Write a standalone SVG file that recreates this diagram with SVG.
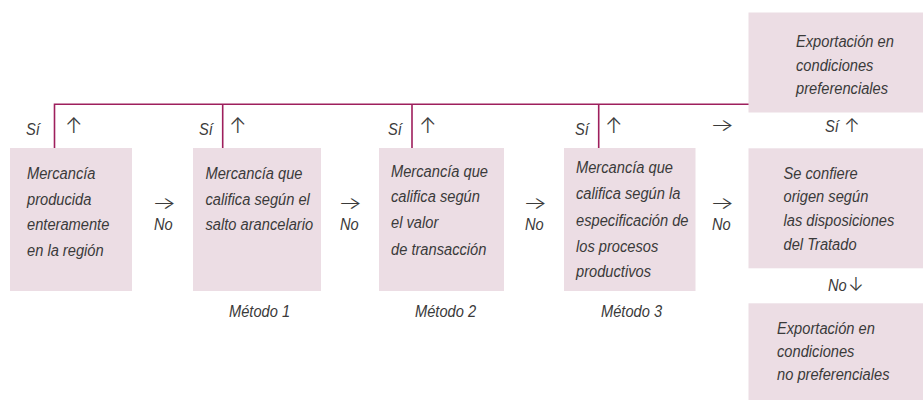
<svg xmlns="http://www.w3.org/2000/svg" width="923" height="400" viewBox="0 0 923 400">
<style>
.box{fill:#ecdde4;}
.t{font-family:"Liberation Sans",Arial,sans-serif;font-style:italic;font-size:16.3px;fill:#3a3a3a;}
.a{font-family:Inter,"DejaVu Sans",sans-serif;font-weight:300;font-size:21px;fill:#3a3a3a;}
.r{font-family:Inter,"DejaVu Sans",sans-serif;font-weight:300;font-size:17px;fill:#3a3a3a;}
.s{font-family:Inter,"DejaVu Sans",sans-serif;font-weight:300;font-size:19px;fill:#3a3a3a;}
.ln{stroke:#9e1f5d;stroke-width:1.6;fill:none;}
</style>
<rect width="923" height="400" fill="#ffffff"/>
<g id="connectors">
<path class="ln" d="M54.5,148 V104.3 H750 M222.7,104.3 V148 M412,104.3 V148 M598.7,104.3 V148"/>
</g>
<g id="labels">
<text class="t" transform="translate(26 135) scale(0.9 1)">Sí</text><text class="a" x="65" y="133">↑</text>
<text class="t" transform="translate(199 135) scale(0.9 1)">Sí</text><text class="a" x="229" y="133">↑</text>
<text class="t" transform="translate(388 135) scale(0.9 1)">Sí</text><text class="a" x="419" y="133">↑</text>
<text class="t" transform="translate(575 135) scale(0.9 1)">Sí</text><text class="a" x="605" y="133">↑</text>
<text class="r" transform="translate(710 131) scale(1.5 1)">→</text>
<text class="t" transform="translate(825 132) scale(0.9 1)">Sí</text><text class="s" x="844" y="132">↑</text>
<text class="r" transform="translate(152 209) scale(1.5 1)">→</text><text class="t" transform="translate(154 230) scale(0.9 1)">No</text>
<text class="r" transform="translate(338 209) scale(1.5 1)">→</text><text class="t" transform="translate(340 230) scale(0.9 1)">No</text>
<text class="r" transform="translate(523 209) scale(1.5 1)">→</text><text class="t" transform="translate(525 230) scale(0.9 1)">No</text>
<text class="r" transform="translate(710 209) scale(1.5 1)">→</text><text class="t" transform="translate(712 230) scale(0.9 1)">No</text>
<text class="t" transform="translate(828 291) scale(0.9 1)">No</text><text class="s" x="848" y="291">↓</text>
<text class="t" transform="translate(229 317) scale(0.9 1)">Método 1</text>
<text class="t" transform="translate(415 317) scale(0.9 1)">Método 2</text>
<text class="t" transform="translate(601 317) scale(0.9 1)">Método 3</text>
</g>
<g id="n1">
<rect class="box" x="10" y="148" width="122" height="143"/>
<text class="t" transform="translate(27 179) scale(0.9 1)">Mercancía</text>
<text class="t" transform="translate(27 204.5) scale(0.9 1)">producida</text>
<text class="t" transform="translate(27 230) scale(0.9 1)">enteramente</text>
<text class="t" transform="translate(27 256) scale(0.9 1)">en la región</text>
</g>
<g id="n2">
<rect class="box" x="193" y="148" width="128" height="143"/>
<text class="t" transform="translate(205.5 179) scale(0.9 1)">Mercancía que</text>
<text class="t" transform="translate(205.5 204.5) scale(0.9 1)">califica según el</text>
<text class="t" transform="translate(205.5 230) scale(0.9 1)">salto arancelario</text>
</g>
<g id="n3">
<rect class="box" x="379" y="148" width="125" height="143"/>
<text class="t" transform="translate(391 177) scale(0.9 1)">Mercancía que</text>
<text class="t" transform="translate(391 202) scale(0.9 1)">califica según</text>
<text class="t" transform="translate(391 228) scale(0.9 1)">el valor</text>
<text class="t" transform="translate(391 255) scale(0.9 1)">de transacción</text>
</g>
<g id="n4">
<rect class="box" x="564" y="148" width="131.5" height="143"/>
<text class="t" transform="translate(576 173) scale(0.9 1)">Mercancía que</text>
<text class="t" transform="translate(576 199) scale(0.9 1)">califica según la</text>
<text class="t" transform="translate(576 225.5) scale(0.9 1)">especificación de</text>
<text class="t" transform="translate(576 251.5) scale(0.9 1)">los procesos</text>
<text class="t" transform="translate(576 277) scale(0.9 1)">productivos</text>
</g>
<g id="n5">
<rect class="box" x="748.5" y="12.5" width="174.5" height="100"/>
<text class="t" transform="translate(796 46.5) scale(0.9 1)">Exportación en</text>
<text class="t" transform="translate(796 70.5) scale(0.9 1)">condiciones</text>
<text class="t" transform="translate(796 93.5) scale(0.9 1)">preferenciales</text>
</g>
<g id="n6">
<rect class="box" x="748.5" y="148.3" width="174.5" height="120"/>
<text class="t" transform="translate(783.5 178.5) scale(0.9 1)">Se confiere</text>
<text class="t" transform="translate(783.5 202) scale(0.9 1)">origen según</text>
<text class="t" transform="translate(783.5 226) scale(0.9 1)">las disposiciones</text>
<text class="t" transform="translate(783.5 250) scale(0.9 1)">del Tratado</text>
</g>
<g id="n7">
<rect class="box" x="748.5" y="303.3" width="174.5" height="96.7"/>
<text class="t" transform="translate(777 333.5) scale(0.9 1)">Exportación en</text>
<text class="t" transform="translate(777 357) scale(0.9 1)">condiciones</text>
<text class="t" transform="translate(777 380) scale(0.9 1)">no preferenciales</text>
</g>
</svg>
